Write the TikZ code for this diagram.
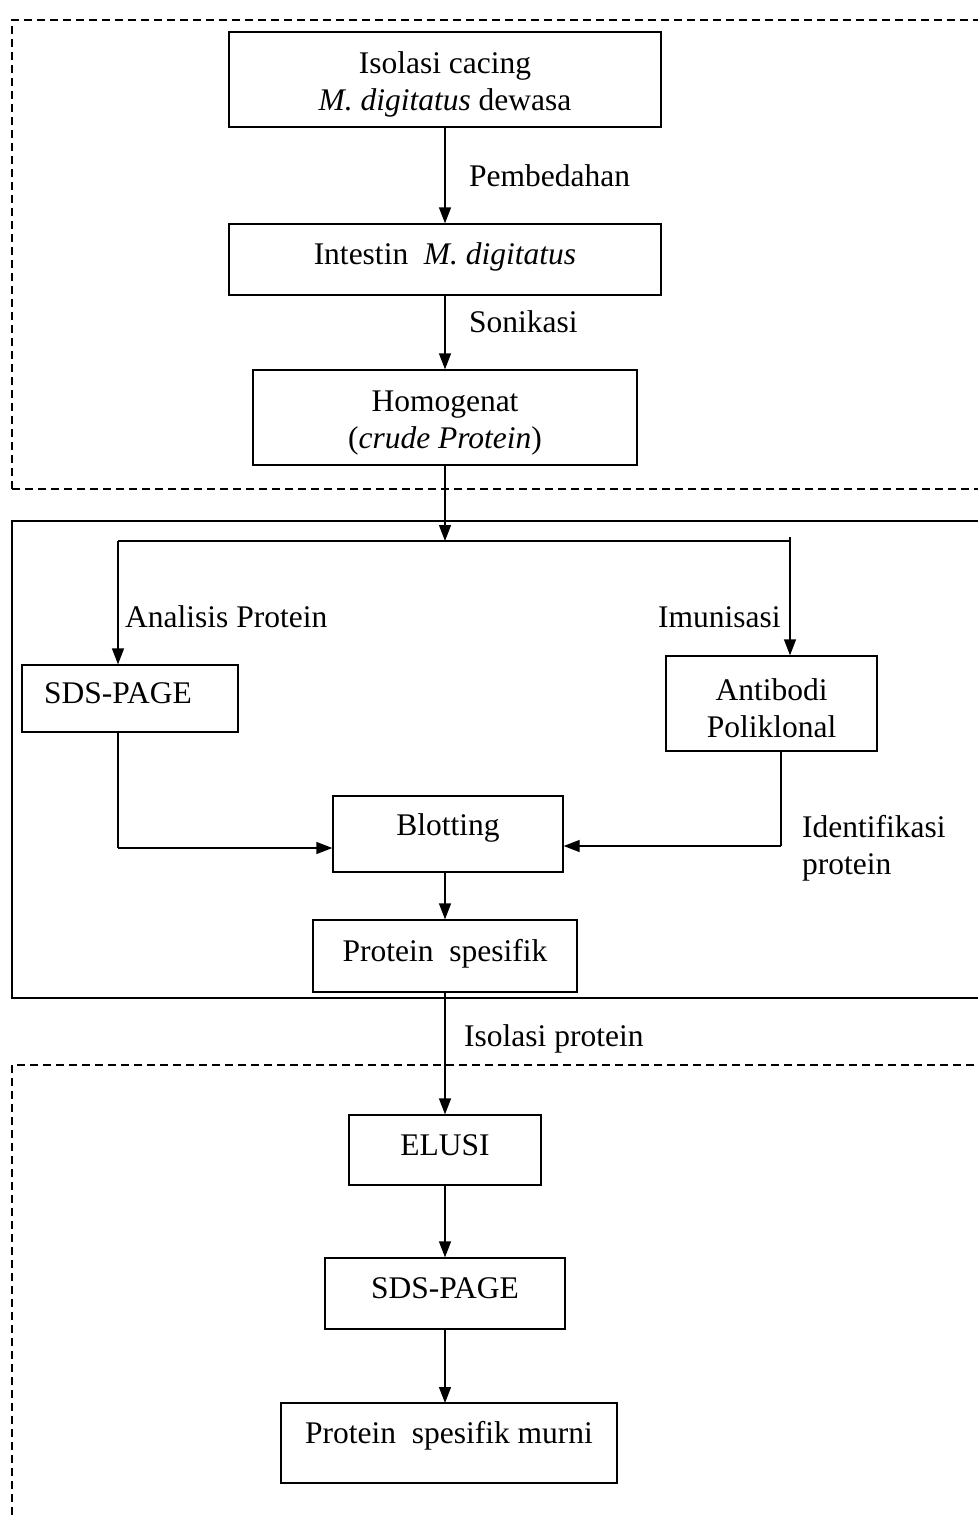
\documentclass[tikz,border=0pt]{standalone}
\usepackage{fontspec}
\setmainfont{Liberation Serif}
\usetikzlibrary{arrows.meta}
\newcommand{\fs}{\fontsize{31.5}{37}\selectfont}
\newcommand{\dn}{\rule{0pt}{31pt}}
\begin{document}
\begin{tikzpicture}[x=1pt,y=-1pt,
  box/.style={draw, line width=1.3pt, inner sep=0pt, align=center, font=\fs},
  one/.style={text height=23pt, text depth=13pt},
  lbl/.style={inner sep=0pt, anchor=west, font=\fs, align=left},
  arr/.style={line width=1.3pt, -{Triangle[length=16pt,width=12pt]}},
  ln/.style={line width=1.3pt},
  dsh/.style={line width=1.2pt, dash pattern=on 8pt off 5pt}]
\useasboundingbox (0,0) rectangle (978,1515);
% frames
\draw[dsh] (12,489) -- (12,20) -- (978,20);
\draw[dsh] (12,489) -- (978,489);
\draw[ln] (978,521) -- (12,521) -- (12,998) -- (978,998);
\draw[dsh] (12,1515) -- (12,1065) -- (978,1065);
% nodes
\node[box, minimum width=432pt, minimum height=95pt] (iso) at (445,79.5) {\dn Isolasi cacing\\\textit{M. digitatus} dewasa};
\node[box, one, minimum width=432pt, minimum height=71pt] (int) at (445,259.5) {Intestin\ \ \textit{M. digitatus}};
\node[box, minimum width=384pt, minimum height=95pt] (hom) at (445,417.5) {\dn Homogenat\\(\textit{crude Protein})};
\node[box, one, minimum width=216pt, minimum height=67pt] (sds1) at (130,698.5) {SDS-PAGE\hspace*{24pt}};
\node[box, minimum width=211pt, minimum height=95pt] (ab) at (771.5,703.5) {\dn Antibodi\\Poliklonal};
\node[box, minimum width=230pt, minimum height=76pt, text height=22pt, text depth=20pt] (blot) at (448,834) {Blotting};
\node[box, one, minimum width=264pt, minimum height=72pt] (ps) at (445,956) {Protein\ \ spesifik};
\node[box, one, minimum width=192pt, minimum height=70pt] (el) at (445,1150) {ELUSI};
\node[box, one, minimum width=240pt, minimum height=71pt] (sds2) at (445,1293.5) {SDS-PAGE};
\node[box, minimum width=336pt, minimum height=80pt, text height=22pt, text depth=22pt] (pm) at (449,1443) {Protein\ \ spesifik murni};
% labels
\node[lbl] (l1) at (469,176) {Pembedahan};
\node[lbl] (l2) at (469,322) {Sonikasi};
\node[lbl] (l3) at (125,617) {Analisis Protein};
\node[lbl] (l4) at (658,617) {Imunisasi};
\node[lbl] (l5) at (802,848) {Identifikasi\\protein};
\node[lbl] (l6) at (464,1039) {Isolasi protein};
% coordinates
\coordinate (br) at (445,541);
\coordinate (bl) at (118,541);
\coordinate (brr) at (790,541);
\coordinate (brt) at (790,537);
\coordinate (lc) at (118,848);
\coordinate (rc) at (781,846);
% connectors
\draw[arr] (iso.south) -- (int.north);
\draw[arr] (int.south) -- (hom.north);
\draw[arr] (hom.south) -- (br);
\draw[ln] (bl) -- (brr);
\draw[arr] (bl) -- (bl |- sds1.north);
\draw[arr] (brt) -- (brt |- ab.north);
\draw[ln] (118,732) -- (lc);
\draw[arr] (lc) -- (lc -| blot.west);
\draw[ln] (781,751) -- (rc);
\draw[arr] (rc) -- (rc -| blot.east);
\draw[arr] (445,872) -- (ps.north);
\draw[arr] (ps.south) -- (el.north);
\draw[arr] (el.south) -- (sds2.north);
\draw[arr] (sds2.south) -- (445,1403);
\end{tikzpicture}
\end{document}
